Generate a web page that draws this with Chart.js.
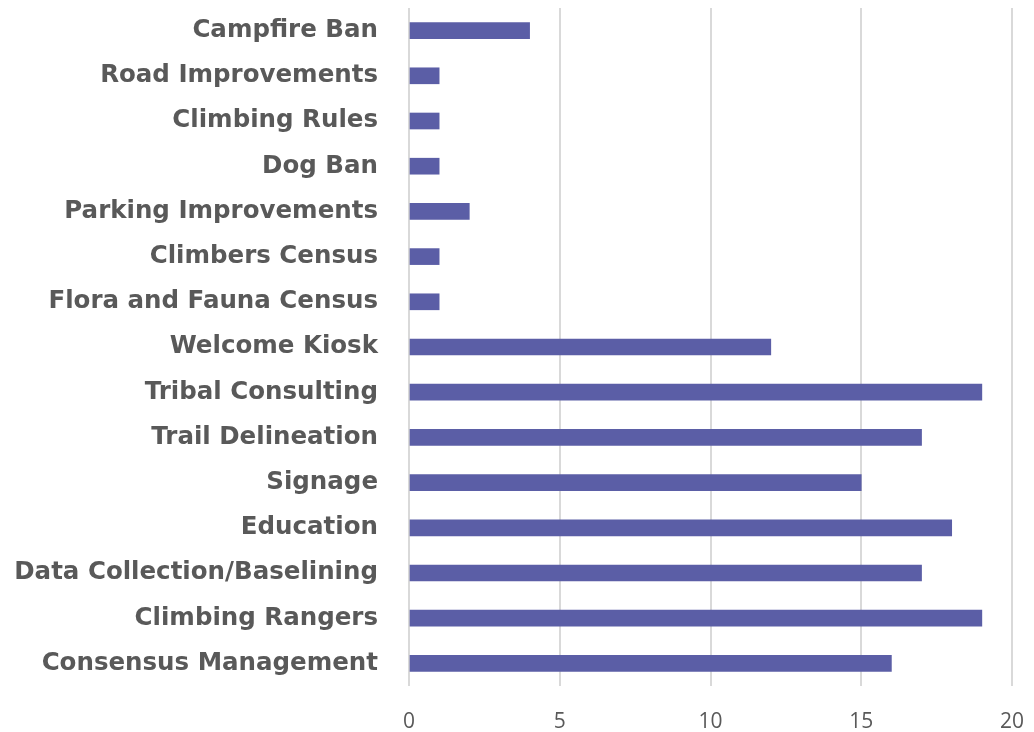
<!DOCTYPE html>
<html>
<head>
<meta charset="utf-8">
<script src="https://cdn.jsdelivr.net/npm/chart.js@4"></script>
<style>
  html, body { margin: 0; padding: 0; background: #fff; }
  #wrap { width: 1034px; height: 732px; }
</style>
</head>
<body>
<div id="wrap"><canvas id="grafico"></canvas></div>
<script>
// categorias (de cima para baixo) e contagens
const categorias = ['Campfire Ban', 'Road Improvements', 'Climbing Rules', 'Dog Ban',
  'Parking Improvements', 'Climbers Census', 'Flora and Fauna Census', 'Welcome Kiosk',
  'Tribal Consulting', 'Trail Delineation', 'Signage', 'Education',
  'Data Collection/Baselining', 'Climbing Rangers', 'Consensus Management'];
const contagens = [4, 1, 1, 1, 2, 1, 1, 12, 19, 17, 15, 18, 17, 19, 16];
const eixoMin = 0;
const eixoMax = 20;
const passo = 5;

const ctx = document.getElementById('grafico').getContext('2d');
const grafico = new Chart(ctx, {
  type: 'bar',
  data: {
    labels: categorias,
    datasets: [{
      label: '',
      data: contagens,
      backgroundColor: '#5B5EA6',
      barThickness: 16
    }]
  },
  options: {
    indexAxis: 'y',
    responsive: true,
    maintainAspectRatio: false,
    animation: false,
    layout: { padding: { top: 8, right: 22, left: 0, bottom: 0 } },
    scales: {
      x: {
        min: eixoMin,
        max: eixoMax,
        ticks: {
          stepSize: passo,
          color: '#595959',
          font: { family: 'Open Sans', size: 21 },
          padding: 23
        },
        grid: { color: '#d9d9d9', lineWidth: 2, drawTicks: false },
        border: { display: false },
        afterFit: (s) => {
          s.height = 46;
          s.paddingTop = 0; s.paddingBottom = 0;
          s.paddingLeft = 0; s.paddingRight = 0;
        }
      },
      y: {
        ticks: {
          color: '#595959',
          font: { family: 'DejaVu Sans', size: 24.5, weight: 'bold' },
          padding: 31
        },
        grid: { display: false, drawTicks: false },
        border: { display: false },
        afterFit: (s) => { s.width = 409; s.paddingTop = 0; s.paddingBottom = 0; }
      }
    },
    plugins: {
      legend: { display: false },
      tooltip: { enabled: false }
    }
  }
});
</script>
</body>
</html>
